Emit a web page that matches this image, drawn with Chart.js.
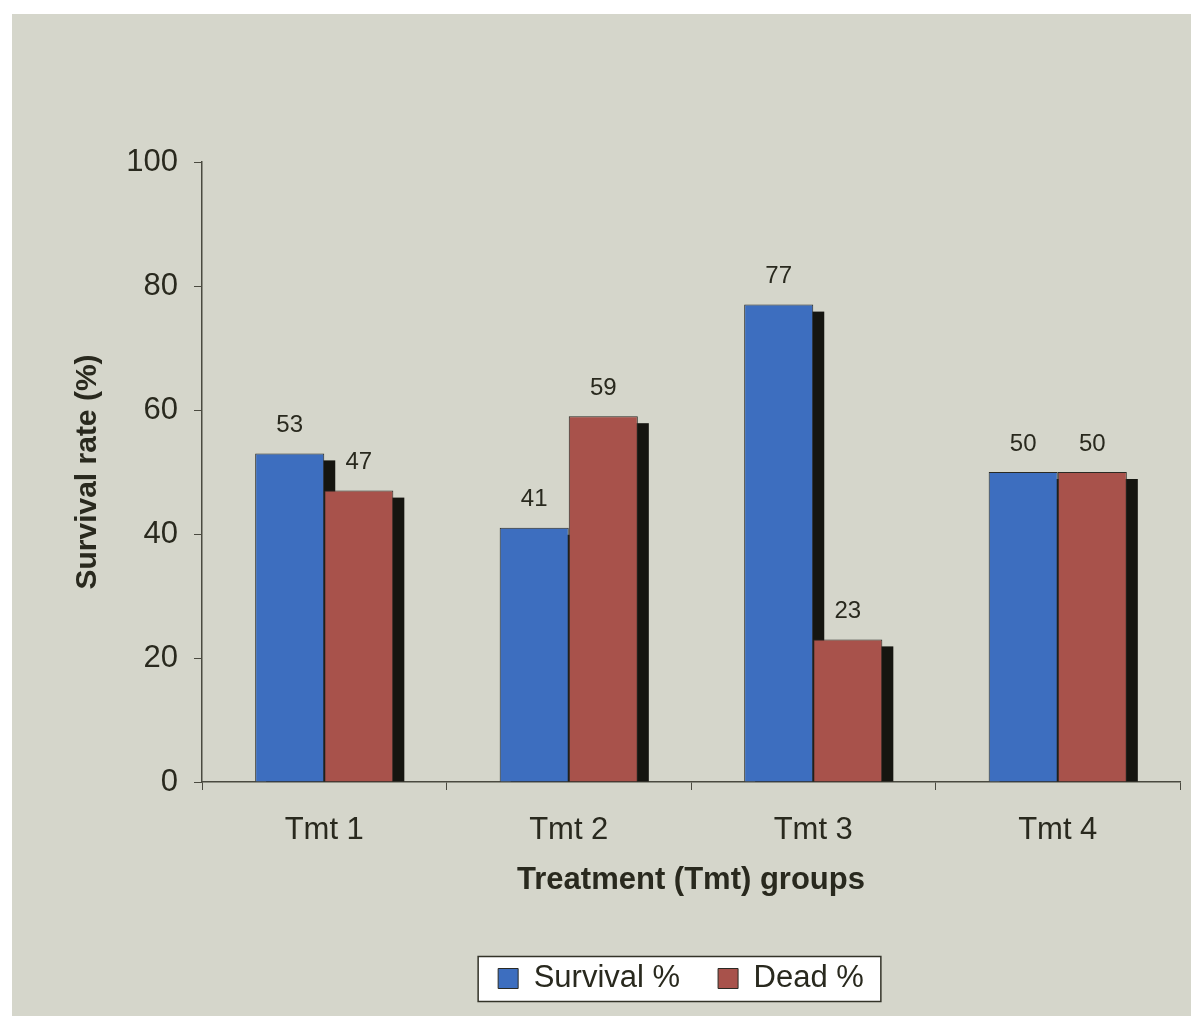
<!DOCTYPE html>
<html>
<head>
<meta charset="utf-8">
<script src="https://cdn.jsdelivr.net/npm/chart.js@4.4.1/dist/chart.umd.min.js"></script>
<style>
  html, body { margin: 0; padding: 0; background: #ffffff; }
  #wrap { position: absolute; left: 12px; top: 14px; width: 1179px; height: 1002px; }
</style>
</head>
<body>
<div id="wrap"><canvas id="chart" width="1179" height="1002"></canvas></div>
<script>
const categories = ['Tmt 1', 'Tmt 2', 'Tmt 3', 'Tmt 4'];
const survival = [53, 41, 77, 50];
const dead = [47, 59, 23, 50];
const yTicks = [0, 20, 40, 60, 80, 100];

const textColor = '#29291e';
const fontFamily = "'Liberation Sans', Arial, sans-serif";

// background, legend frame, bar shadows and value labels
const decor = {
    id: 'decor',
    afterLayout(chart) {
        // legend sits a bit right of the canvas centre in the original
        const lg = chart.legend;
        if (lg) { lg.left += 57; lg.right += 57; }
    },
    beforeDraw(chart) {
        const ctx = chart.ctx;
        ctx.save();
        ctx.fillStyle = '#d5d6cb';
        ctx.fillRect(0, 0, chart.width, chart.height);
        const lg = chart.legend;
        if (lg && lg.legendHitBoxes && lg.legendHitBoxes.length) {
            const boxes = lg.legendHitBoxes;
            const first = boxes[0];
            const last = boxes[boxes.length - 1];
            const cy = first.top + first.height / 2;
            const left = first.left - 20;
            const right = last.left + last.width + 17;
            ctx.fillStyle = '#ffffff';
            ctx.fillRect(left, cy - 22, right - left, 45);
            ctx.strokeStyle = '#333328';
            ctx.lineWidth = 1.5;
            ctx.strokeRect(left, cy - 22, right - left, 45);
        }
        ctx.restore();
    },
    beforeDatasetsDraw(chart) {
        const ctx = chart.ctx;
        ctx.save();
        ctx.fillStyle = '#151510';
        chart.data.datasets.forEach((ds, i) => {
            chart.getDatasetMeta(i).data.forEach(bar => {
                const w = bar.width;
                ctx.fillRect(bar.x - w / 2 + 11, bar.y + 7, w, bar.base - bar.y - 7);
            });
        });
        ctx.restore();
    },
    afterDatasetsDraw(chart) {
        const ctx = chart.ctx;
        ctx.save();
        ctx.fillStyle = textColor;
        ctx.font = '24px ' + fontFamily;
        ctx.textAlign = 'center';
        ctx.textBaseline = 'middle';
        chart.data.datasets.forEach((ds, i) => {
            chart.getDatasetMeta(i).data.forEach((bar, j) => {
                ctx.fillText(ds.data[j], bar.x, bar.y - 28);
            });
        });
        ctx.restore();
    }
};

new Chart(document.getElementById('chart'), {
    type: 'bar',
    data: {
        labels: categories,
        datasets: [{
            label: 'Survival %',
            data: survival,
            backgroundColor: '#3d6ebf',
            borderColor: '#2a2a24',
            borderWidth: 1,
            categoryPercentage: 0.565,
            barPercentage: 1.0
        }, {
            label: 'Dead %',
            data: dead,
            backgroundColor: '#a8524b',
            borderColor: '#2a2a24',
            borderWidth: 1,
            categoryPercentage: 0.565,
            barPercentage: 1.0
        }]
    },
    options: {
        responsive: false,
        animation: false,
        layout: { padding: { left: 56, right: 11, top: 148, bottom: 12 } },
        plugins: {
            tooltip: { enabled: false },
            legend: {
                position: 'bottom',
                labels: {
                    boxWidth: 20,
                    boxHeight: 20,
                    padding: 38,
                    color: textColor,
                    font: { family: fontFamily, size: 31 }
                }
            }
        },
        scales: {
            x: {
                afterFit: s => { s.height = 143; },
                grid: { offset: true, drawOnChartArea: false, drawTicks: true, tickLength: 8, color: '#4a4a40' },
                border: { color: '#4a4a40', width: 1.5 },
                ticks: { color: textColor, padding: 22, font: { family: fontFamily, size: 31 } },
                title: {
                    display: true,
                    text: 'Treatment (Tmt) groups',
                    color: textColor,
                    padding: { top: 0, bottom: 26 },
                    font: { family: fontFamily, size: 31, weight: 'bold' }
                }
            },
            y: {
                min: 0,
                max: 100,
                afterFit: s => { s.width = 134; },
                afterBuildTicks: s => { s.ticks = yTicks.map(v => ({ value: v })); },
                grid: { drawOnChartArea: false, drawTicks: true, tickLength: 8, color: '#4a4a40' },
                border: { color: '#4a4a40', width: 1.5 },
                ticks: { color: textColor, padding: 16, font: { family: fontFamily, size: 31 } },
                title: {
                    display: true,
                    text: 'Survival rate (%)',
                    color: textColor,
                    padding: { top: 2, bottom: 0 },
                    font: { family: fontFamily, size: 30, weight: 'bold' }
                }
            }
        }
    },
    plugins: [decor]
});
</script>
</body>
</html>
